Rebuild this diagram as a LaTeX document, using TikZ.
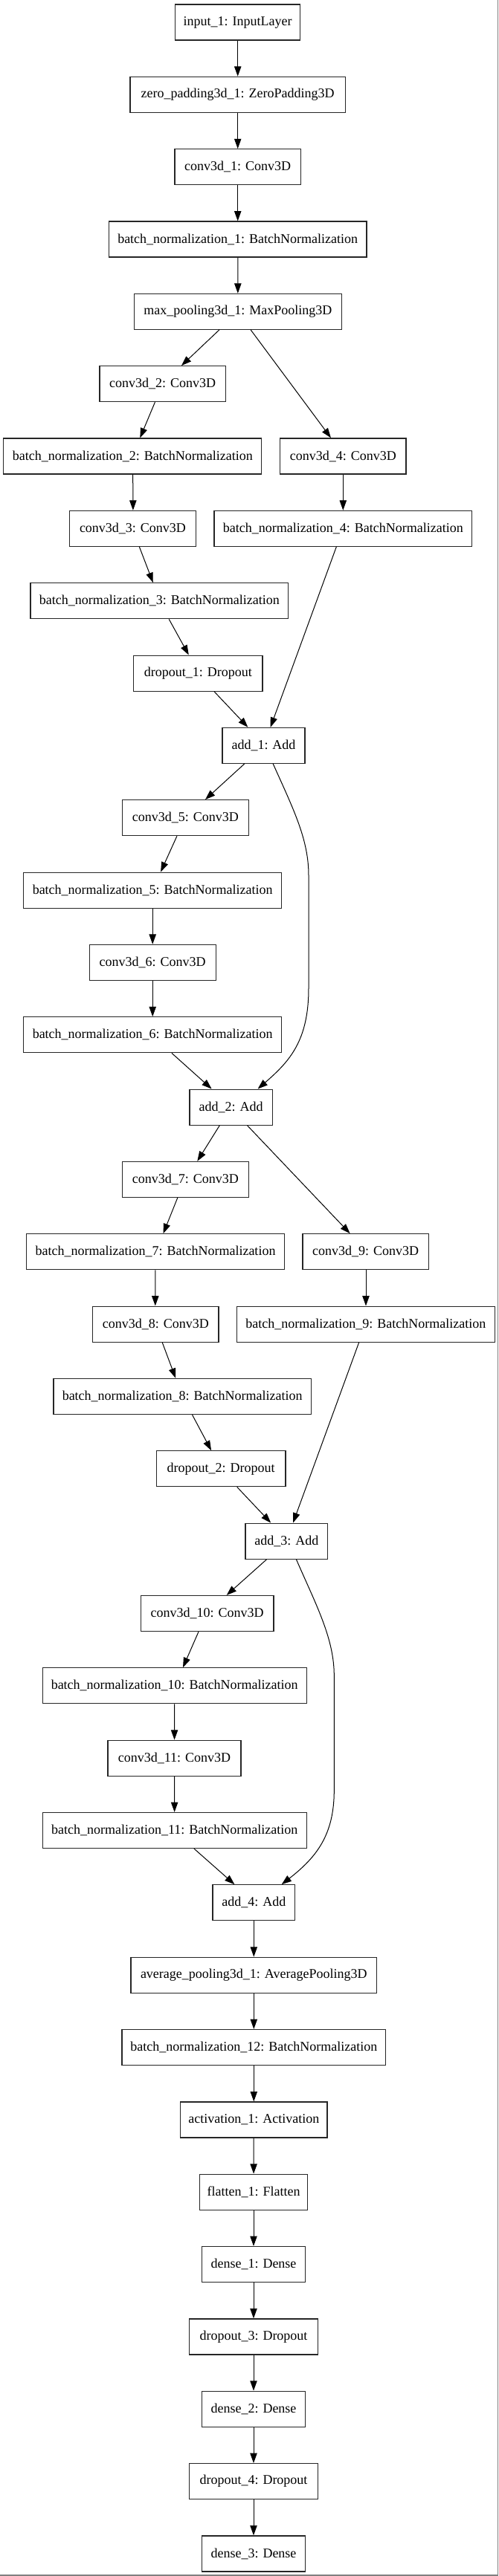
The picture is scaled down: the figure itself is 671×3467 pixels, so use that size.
\documentclass[tikz,border=0pt]{standalone}
\usepackage{fontspec}
\setmainfont{Liberation Serif}
\usetikzlibrary{arrows.meta}
\newcommand\Ly[5]{\node[lay, minimum width=#4*0.75pt] (#1) at (#2,#3) {#5};}
\newcommand\dx[1]{#1*0.75pt}
\begin{document}
\begin{tikzpicture}[x=0.75pt,y=-0.75pt,
  lay/.style={draw=black!85, line width=0.9pt, minimum height=36pt, inner sep=0pt, font=\fontsize{13.5}{16}\selectfont},
  edge/.style={draw=black, line width=0.75pt, -{Triangle[length=10pt,width=7pt]}},
  frame/.style={draw=black!50, line width=1pt}]
\useasboundingbox (0,0) rectangle (671,3467);
\fill[white] (0,0) rectangle (671,3467);
\coordinate (tr) at (669.5,0);
\coordinate (br) at (669.5,3466);
\coordinate (bl) at (0,3466);
\draw[frame] (tr) -- (br) -- (bl);

\Ly{in1}{319.7}{30.0}{167.7}{input\_1: InputLayer}
\Ly{zp}{319.7}{127.3}{289.3}{zero\_padding3d\_1: ZeroPadding3D}
\Ly{c1}{319.7}{224.7}{169.4}{conv3d\_1: Conv3D}
\Ly{b1}{319.7}{322.0}{346.6}{batch\_normalization\_1: BatchNormalization}
\Ly{mp}{319.9}{419.4}{278.6}{max\_pooling3d\_1: MaxPooling3D}
\Ly{c2}{218.7}{516.7}{169.4}{conv3d\_2: Conv3D}
\Ly{b2}{178.3}{614.0}{347.1}{batch\_normalization\_2: BatchNormalization}
\Ly{c4}{461.3}{614.0}{169.4}{conv3d\_4: Conv3D}
\Ly{c3}{178.5}{711.4}{169.5}{conv3d\_3: Conv3D}
\Ly{b4}{461.3}{711.4}{346.6}{batch\_normalization\_4: BatchNormalization}
\Ly{b3}{214.4}{808.7}{346.7}{batch\_normalization\_3: BatchNormalization}
\Ly{d1}{266.4}{906.1}{173.3}{dropout\_1: Dropout}
\Ly{a1}{354.5}{1003.4}{110.9}{add\_1: Add}
\Ly{c5}{249.3}{1100.7}{169.9}{conv3d\_5: Conv3D}
\Ly{b5}{205.2}{1198.1}{347.0}{batch\_normalization\_5: BatchNormalization}
\Ly{c6}{205.2}{1295.4}{169.9}{conv3d\_6: Conv3D}
\Ly{b6}{205.2}{1392.8}{347.0}{batch\_normalization\_6: BatchNormalization}
\Ly{a2}{310.6}{1490.1}{111.3}{add\_2: Add}
\Ly{c7}{249.3}{1587.4}{169.9}{conv3d\_7: Conv3D}
\Ly{b7}{209.0}{1684.8}{347.1}{batch\_normalization\_7: BatchNormalization}
\Ly{c9}{491.7}{1684.8}{169.4}{conv3d\_9: Conv3D}
\Ly{c8}{209.3}{1782.1}{169.5}{conv3d\_8: Conv3D}
\Ly{b9}{491.9}{1782.1}{347.0}{batch\_normalization\_9: BatchNormalization}
\Ly{b8}{245.2}{1879.5}{346.6}{batch\_normalization\_8: BatchNormalization}
\Ly{d2}{297.2}{1976.8}{173.4}{dropout\_2: Dropout}
\Ly{a3}{385.4}{2074.1}{110.8}{add\_3: Add}
\Ly{c10}{278.6}{2171.5}{178.9}{conv3d\_10: Conv3D}
\Ly{b10}{234.7}{2268.8}{354.8}{batch\_normalization\_10: BatchNormalization}
\Ly{c11}{234.5}{2366.2}{179.0}{conv3d\_11: Conv3D}
\Ly{b11}{234.7}{2463.5}{354.8}{batch\_normalization\_11: BatchNormalization}
\Ly{a4}{341.3}{2560.8}{110.8}{add\_4: Add}
\Ly{ap}{341.3}{2658.2}{330.8}{average\_pooling3d\_1: AveragePooling3D}
\Ly{b12}{341.3}{2755.5}{354.8}{batch\_normalization\_12: BatchNormalization}
\Ly{act}{341.3}{2852.9}{197.4}{activation\_1: Activation}
\Ly{fl}{341.0}{2950.2}{145.5}{flatten\_1: Flatten}
\Ly{de1}{341.0}{3047.5}{138.7}{dense\_1: Dense}
\Ly{dr3}{341.0}{3144.9}{172.9}{dropout\_3: Dropout}
\Ly{de2}{341.0}{3242.2}{138.7}{dense\_2: Dense}
\Ly{dr4}{341.0}{3339.6}{172.9}{dropout\_4: Dropout}
\Ly{de3}{341.0}{3436.9}{138.7}{dense\_3: Dense}

\draw[edge] (in1) -- (zp);
\draw[edge] (zp) -- (c1);
\draw[edge] (c1) -- (b1);
\draw[edge] (b1) -- (mp);
\draw[edge] ([xshift=\dx{-25.1}]mp.south) -- ([xshift=\dx{25.3}]c2.north);
\draw[edge] ([xshift=\dx{17.3}]mp.south) -- ([xshift=\dx{-16.3}]c4.north);
\draw[edge] ([xshift=\dx{-10.3}]c2.south) -- ([xshift=\dx{10}]b2.north);
\draw[edge] ([xshift=\dx{0.4}]b2.south) -- ([xshift=\dx{0.4}]c3.north);
\draw[edge] ([xshift=\dx{8.9}]c3.south) -- ([xshift=\dx{-8.6}]b3.north);
\draw[edge] ([xshift=\dx{12.8}]b3.south) -- ([xshift=\dx{-12.6}]d1.north);
\draw[edge] ([xshift=\dx{21.6}]d1.south) -- ([xshift=\dx{-21.1}]a1.north);
\draw[edge] (c4) -- (b4);
\draw[edge] ([xshift=\dx{-9}]b4.south) -- ([xshift=\dx{9.2}]a1.north);
\draw[edge] ([xshift=\dx{-25.8}]a1.south) -- ([xshift=\dx{26.7}]c5.north);
\draw[edge] ([xshift=\dx{12.7}]a1.south) .. controls (395,1090) and (415,1130) .. (415,1178) -- (415,1330) .. controls (415,1400) and (390,1428) .. ([xshift=\dx{36}]a2.north);
\draw[edge] ([xshift=\dx{-11.4}]c5.south) -- ([xshift=\dx{10.9}]b5.north);
\draw[edge] (b5) -- (c6);
\draw[edge] (c6) -- (b6);
\draw[edge] ([xshift=\dx{25.8}]b6.south) -- ([xshift=\dx{-26}]a2.north);
\draw[edge] ([xshift=\dx{-15.3}]a2.south) -- ([xshift=\dx{16}]c7.north);
\draw[edge] ([xshift=\dx{21.9}]a2.south) -- ([xshift=\dx{-21}]c9.north);
\draw[edge] ([xshift=\dx{-10.5}]c7.south) -- ([xshift=\dx{10.5}]b7.north);
\draw[edge] ([xshift=\dx{-0.2}]b7.south) -- ([xshift=\dx{-0.5}]c8.north);
\draw[edge] ([xshift=\dx{8.9}]c8.south) -- ([xshift=\dx{-9}]b8.north);
\draw[edge] ([xshift=\dx{13.3}]b8.south) -- ([xshift=\dx{-13.1}]d2.north);
\draw[edge] ([xshift=\dx{21.6}]d2.south) -- ([xshift=\dx{-21.2}]a3.north);
\draw[edge] ([xshift=\dx{0.3}]c9.south) -- ([xshift=\dx{0.1}]b9.north);
\draw[edge] ([xshift=\dx{-9.2}]b9.south) -- ([xshift=\dx{8.7}]a3.north);
\draw[edge] ([xshift=\dx{-26.8}]a3.south) -- ([xshift=\dx{26.1}]c10.north);
\draw[edge] ([xshift=\dx{13}]a3.south) .. controls (425,2160) and (449.3,2205) .. (449.3,2255) -- (449.3,2410) .. controls (449.3,2470) and (425,2500) .. ([xshift=\dx{37.4}]a4.north);
\draw[edge] ([xshift=\dx{-11.6}]c10.south) -- ([xshift=\dx{11.3}]b10.north);
\draw[edge] (b10) -- (c11);
\draw[edge] (c11) -- (b11);
\draw[edge] ([xshift=\dx{26.3}]b11.south) -- ([xshift=\dx{-25.9}]a4.north);
\draw[edge] (a4) -- (ap);
\draw[edge] (ap) -- (b12);
\draw[edge] (b12) -- (act);
\draw[edge] (act) -- (fl);
\draw[edge] (fl) -- (de1);
\draw[edge] (de1) -- (dr3);
\draw[edge] (dr3) -- (de2);
\draw[edge] (de2) -- (dr4);
\draw[edge] (dr4) -- (de3);
\end{tikzpicture}
\end{document}
